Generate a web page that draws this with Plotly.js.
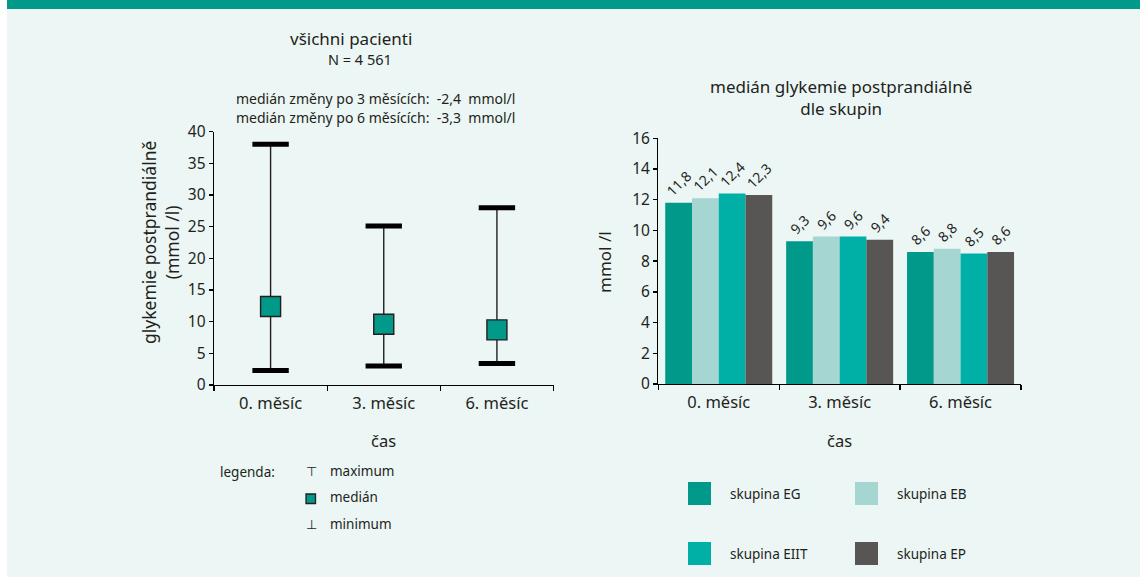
<!DOCTYPE html>
<html>
<head>
<meta charset="utf-8">
<script src="https://cdn.plot.ly/plotly-3.0.1.min.js"></script>
<style>
  html, body { margin: 0; padding: 0; background: #ffffff; }
  #chart { width: 1140px; height: 577px; }
</style>
</head>
<body>
<div id="chart"></div>
<script>
// ---- data ----
const months = ["0. měsíc", "3. měsíc", "6. měsíc"];

// all patients (N = 4 561): range and median of postprandial glycaemia, mmol/l
const allMax    = [38.0, 25.1, 28.0];
const allMedian = [12.4, 9.6, 8.7];
const allMin    = [2.3, 3.0, 3.4];

// median postprandial glycaemia by group, mmol/l
const groupNames  = ["skupina EG", "skupina EB", "skupina EIIT", "skupina EP"];
const groupColors = ["#00998a", "#a6d6d2", "#00b0a7", "#575655"];
const groupValues = [
  [11.8, 9.3, 8.6],   // EG
  [12.1, 9.6, 8.8],   // EB
  [12.4, 9.6, 8.5],   // EIIT
  [12.3, 9.4, 8.6]    // EP
];

// ---- page geometry helpers (pixels -> paper fractions) ----
const W = 1140, H = 577;
const fx = x => x / W;
const fy = y => 1 - y / H;

const FONT = "Noto Sans, Open Sans, sans-serif";
const INK = "#231f20";
const fmt = v => v.toFixed(1).replace(".", ",");

// ---- left panel: min / median / max per month ----
const wx = [], wy = [];
months.forEach((m, i) => { wx.push(m, m, null); wy.push(allMin[i], allMax[i], null); });

const traces = [
  { type: "scatter", mode: "lines", x: wx, y: wy, xaxis: "x", yaxis: "y",
    line: { color: INK, width: 1.4 }, hoverinfo: "skip", showlegend: false },
  { type: "scatter", mode: "markers", x: months, y: allMax, xaxis: "x", yaxis: "y",
    name: "maximum", showlegend: false,
    marker: { symbol: "line-ew", size: 26, color: "#000", line: { color: "#000", width: 5 } } },
  { type: "scatter", mode: "markers", x: months, y: allMin, xaxis: "x", yaxis: "y",
    name: "minimum", showlegend: false,
    marker: { symbol: "line-ew", size: 26, color: "#000", line: { color: "#000", width: 5 } } },
  { type: "scatter", mode: "markers", x: months, y: allMedian, xaxis: "x", yaxis: "y",
    name: "medián", showlegend: false,
    marker: { symbol: "square", size: 20, color: "#00998a", line: { color: INK, width: 1.4 } } }
];

// ---- right panel: grouped bars ----
groupNames.forEach((g, k) => {
  traces.push({
    type: "bar", name: g, x: months, y: groupValues[k], xaxis: "x2", yaxis: "y2",
    marker: { color: groupColors[k], line: { width: 0 } },
    text: groupValues[k].map(fmt), textposition: "outside", textangle: -45,
    constraintext: "none", cliponaxis: false,
    textfont: { family: FONT, size: 14, color: INK },
    showlegend: false
  });
});

const axisCommon = {
  showline: true, linecolor: "#000", linewidth: 1.3, mirror: false,
  ticks: "outside", tickcolor: "#000", tickwidth: 1.3,
  showgrid: false, zeroline: false, fixedrange: true,
  tickfont: { family: FONT, size: 15.5, color: INK }
};
const catFont = { family: FONT, size: 16.5, color: INK };

const annotations = [];
const note = (text, x, y, size, opts) => annotations.push(Object.assign({
  text, x: fx(x), y: fy(y), xref: "paper", yref: "paper", showarrow: false,
  font: { family: FONT, size, color: INK }, xanchor: "center", yanchor: "middle"
}, opts || {}));

// left panel texts
note("všichni pacienti", 351, 39, 17);
note("N = 4 561", 360, 59, 14.5);
note("medián změny po 3 měsících:  -2,4  mmol/l", 375, 98, 14);
note("medián změny po 6 měsících:  -3,3  mmol/l", 375, 117, 14);
note("glykemie postprandiálně<br>(mmol /l)", 160, 243, 17.5, { textangle: -90 });
note("čas", 383, 440, 16.5);

// left legend
note("legenda:", 218, 472, 13.5, { xanchor: "left" });
note("⊤", 311, 471, 13);
note("⊥", 311, 524, 13);
note("maximum", 328, 471, 13.5, { xanchor: "left" });
note("medián", 328, 497, 13.5, { xanchor: "left" });
note("minimum", 328, 524, 13.5, { xanchor: "left" });

// right panel texts
note("medián glykemie postprandiálně<br>dle skupin", 841, 97.5, 17);
note("mmol /l", 605, 262, 17, { textangle: -90 });
note("čas", 839, 440, 16.5);

// right legend: 2 x 2 grid of swatches
const legendCols = [688, 855], legendRows = [482, 542], SW = 23;
const shapes = [
  // page background and top band
  { type: "rect", xref: "paper", yref: "paper", x0: fx(7), x1: 1, y0: 0, y1: fy(9),
    fillcolor: "#ecf6f4", line: { width: 0 }, layer: "below" },
  { type: "rect", xref: "paper", yref: "paper", x0: fx(7), x1: 1, y0: fy(9), y1: 1,
    fillcolor: "#00998a", line: { width: 0 }, layer: "below" },
  // left legend median swatch
  { type: "rect", xref: "paper", yref: "paper", x0: fx(306), x1: fx(315.5), y0: fy(503.5), y1: fy(494),
    fillcolor: "#00998a", line: { color: INK, width: 1.3 } }
];
groupNames.forEach((g, k) => {
  const cx = legendCols[k % 2], cy = legendRows[Math.floor(k / 2)];
  shapes.push({ type: "rect", xref: "paper", yref: "paper",
    x0: fx(cx), x1: fx(cx + SW), y0: fy(cy + SW), y1: fy(cy),
    fillcolor: groupColors[k], line: { width: 0 } });
  note(g, cx + 40, cy + 12, 13.5, { xanchor: "left" });
});

const layout = {
  width: W, height: H,
  margin: { l: 0, r: 0, t: 0, b: 0 },
  paper_bgcolor: "#ffffff", plot_bgcolor: "rgba(0,0,0,0)",
  font: { family: FONT, color: INK },
  barmode: "group", bargap: 0.115, bargroupgap: 0,
  showlegend: false,
  xaxis: Object.assign({}, axisCommon, {
    domain: [fx(214), fx(553.5)], anchor: "y", type: "category",
    categoryorder: "array", categoryarray: months, range: [-0.5, 2.5],
    tickson: "boundaries", ticklen: 5, ticklabelstandoff: 3, tickfont: catFont
  }),
  yaxis: Object.assign({}, axisCommon, {
    domain: [fy(385), fy(131.7)], anchor: "x", range: [0, 40], dtick: 5, ticklen: 4
  }),
  xaxis2: Object.assign({}, axisCommon, {
    domain: [fx(658.3), fx(1021)], anchor: "y2", type: "category",
    categoryorder: "array", categoryarray: months, range: [-0.5, 2.5],
    tickson: "boundaries", ticklen: 5, ticklabelstandoff: 3, tickfont: catFont
  }),
  yaxis2: Object.assign({}, axisCommon, {
    domain: [fy(384), fy(138.3)], anchor: "x2", range: [0, 16], dtick: 2, ticklen: 4
  }),
  shapes, annotations
};

Plotly.newPlot("chart", traces, layout, { displayModeBar: false, staticPlot: true });
</script>
</body>
</html>
